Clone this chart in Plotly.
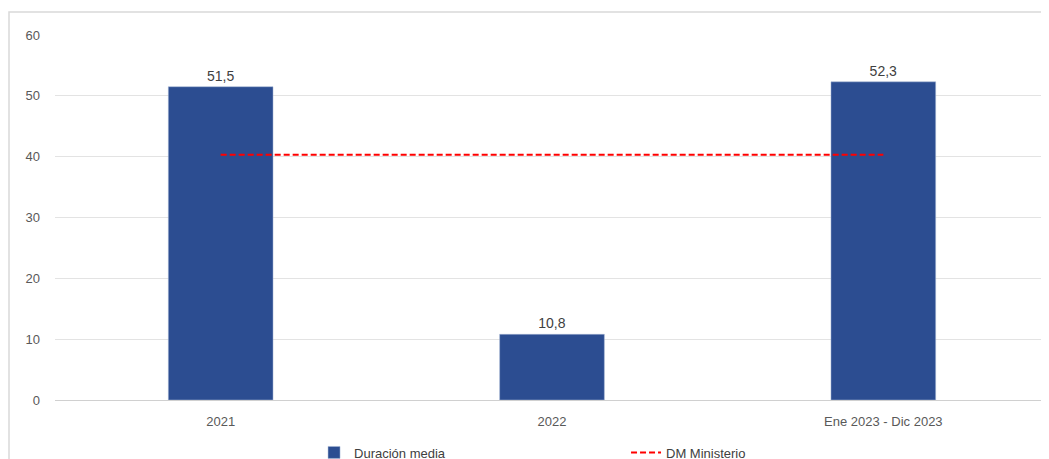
import plotly.graph_objects as go

categories = ["2021", "2022", "Ene 2023 - Dic 2023"]
duracion_media = [51.5, 10.8, 52.3]
dm_ministerio = [40.3, 40.3, 40.3]
y_ticks = [0, 10, 20, 30, 40, 50, 60]

fig = go.Figure()
fig.add_trace(go.Bar(
    x=categories, y=duracion_media, name="Duración media",
    marker=dict(color="#2C4D91", line=dict(color="#A9B8D6", width=0.5)),
    width=0.316,
    text=duracion_media, texttemplate="%{y:.1f}", textposition="outside",
    textfont=dict(family="Liberation Sans, Arial", size=14, color="#404040"),
    cliponaxis=False,
))
fig.add_trace(go.Scatter(
    x=categories, y=dm_ministerio, name="DM Ministerio", mode="lines",
    line=dict(color="#FF0000", width=2, dash="6px,3px"),
))

fig.update_layout(
    width=1049, height=459,
    margin=dict(l=47, r=8, t=27, b=67, autoexpand=False),
    paper_bgcolor="white", plot_bgcolor="white",
    separators=",.",
    font=dict(family="Liberation Sans, Arial", size=12, color="#595959"),
    showlegend=True,
    legend=dict(orientation="h", x=0.2606, xanchor="left", y=-0.1027, yanchor="top",
                entrywidth=267, entrywidthmode="pixels",
                font=dict(size=13, color="#404040"), traceorder="normal"),
    xaxis=dict(range=[-0.5, 2.5], showgrid=False, showline=False, zeroline=False,
               automargin=False,
               ticks="", tickfont=dict(size=13, color="#595959"), ticklabelstandoff=12),
    yaxis=dict(range=[0, 60], tickvals=y_ticks, showgrid=True, gridcolor="#E3E3E3",
               automargin=False,
               gridwidth=1, zeroline=True, zerolinecolor="#D0D0D0", zerolinewidth=1,
               showline=False, ticks="", tickfont=dict(size=13, color="#595959"),
               ticklabelstandoff=14),
    bargap=0.2,
    shapes=[dict(type="rect", xref="paper", yref="paper",
                 x0=(9 - 55) / 994, x1=1.2, y0=-0.5, y1=(400 - 12) / 365,
                 line=dict(color="#D9D9D9", width=1.5), fillcolor="rgba(0,0,0,0)",
                 layer="below")],
)

fig.write_html("out.html")
